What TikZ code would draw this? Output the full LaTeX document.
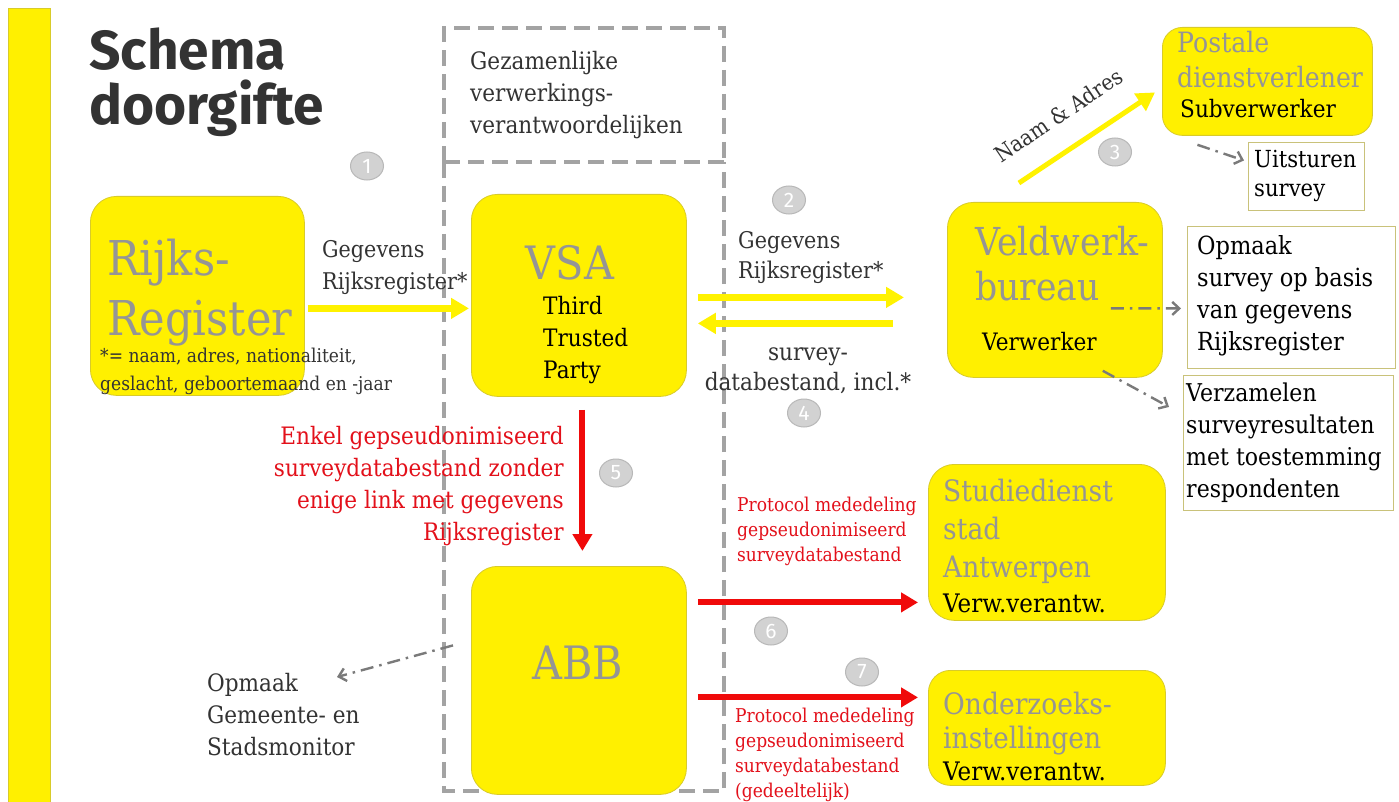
\documentclass[tikz,border=0pt]{standalone}
\usepackage{fontspec}
\setmainfont{DejaVu Serif}[FakeStretch=0.9]
\newfontfamily\titlefont{Fira Sans}
\usetikzlibrary{arrows.meta,shapes.geometric}
\definecolor{yfill}{HTML}{FFF000}
\definecolor{ybord}{HTML}{D8CB2A}
\definecolor{yarr}{HTML}{FFF200}
\definecolor{rarr}{HTML}{F00A0A}
\definecolor{rtext}{HTML}{E3101A}
\definecolor{gtext}{HTML}{959595}
\definecolor{dtext}{HTML}{333333}
\definecolor{dashg}{HTML}{A3A3A3}
\definecolor{ddg}{HTML}{7A7A7A}
\definecolor{tbord}{HTML}{C9C27A}
\definecolor{numf}{HTML}{D2D2D2}
\definecolor{numd}{HTML}{B8B8B8}
\tikzset{
  ybox/.style={draw=ybord, fill=yfill, line width=0.8pt, rounded corners=26pt, anchor=north west, inner sep=0pt},
  tbox/.style={draw=tbord, line width=0.9pt, anchor=north west, inner sep=0pt},
  bigg/.style={text=gtext, anchor=base west, inner sep=0pt, align=left},
  med/.style={text=dtext, anchor=base west, inner sep=0pt, align=left, font=\fontsize{24}{32}\selectfont},
  small/.style={text=dtext, anchor=base west, inner sep=0pt, align=left, font=\fontsize{19}{28}\selectfont},
  rsmall/.style={text=rtext, anchor=base west, inner sep=0pt, align=left, font=\fontsize{19}{25}\selectfont},
  num/.style={ellipse, fill=numf, draw=numd, line width=1pt, minimum width=33pt, minimum height=28pt, inner sep=0pt, text=white, font=\titlefont\fontsize{21}{21}\selectfont},
  yarrow/.style={draw=yarr, line width=6.5pt, -{Triangle[length=18pt,width=20pt]}},
  rarrow/.style={draw=rarr, line width=6pt, -{Triangle[length=17pt,width=19pt]}},
  ddarrow/.style={draw=ddg, line width=2.4pt, dash pattern=on 13pt off 6pt on 2.5pt off 6pt, -{Straight Barb[length=7pt,width=13pt]}},
  gdash/.style={draw=dashg, line width=4pt, dash pattern=on 16pt off 8pt},
}
\begin{document}
\begin{tikzpicture}[x=1pt,y=-1pt]
\useasboundingbox (0,0) rectangle (1399,802);
\fill[white] (0,0) rectangle (1399,802);
% left bar
\path[fill=yfill, draw=ybord, line width=0.8pt] (8,8) rectangle (50,810);
% title
\node[anchor=base west, inner sep=0pt, text=dtext, font=\titlefont\bfseries\fontsize{55}{55}\selectfont, align=left] (title) at (89,125) {Schema\\doorgifte};

% dashed joint-controller boxes
\draw[gdash] (444,162) -- (444,28) -- (724,28) -- (724,162);
\draw[gdash] (444,162) -- (724,162);
\draw[gdash] (444,162) -- (444,791) -- (724,791) -- (724,162);
\node[med] (gez) at (470,134) {Gezamenlijke\\verwerkings-\\verantwoordelijken};

% yellow boxes
\node[ybox, minimum width=214pt, minimum height=199pt] (rr) at (90,196) {};
\node[ybox, minimum width=215pt, minimum height=202pt] (vsa) at (471,194) {};
\node[ybox, minimum width=215pt, minimum height=175pt] (vw) at (947,202) {};
\node[ybox, minimum width=210pt, minimum height=108pt, rounded corners=20pt] (post) at (1162,27) {};
\node[ybox, minimum width=215pt, minimum height=228pt] (abb) at (471,566) {};
\node[ybox, minimum width=237pt, minimum height=156pt] (stud) at (928,464) {};
\node[ybox, minimum width=237pt, minimum height=115pt, rounded corners=22pt] (ond) at (928,670) {};

% text boxes
\node[tbox, minimum width=116pt, minimum height=68pt] (uits) at (1248,142) {};
\node[tbox, minimum width=208pt, minimum height=142pt] (opm) at (1187,226) {};
\node[tbox, minimum width=210pt, minimum height=135pt] (verz) at (1183,375) {};

% box texts
\node[bigg, font=\fontsize{48}{60}\selectfont] (rrt) at (107,335) {Rijks-\\Register};
\node[small] (rrn) at (100,390) {*= naam, adres, nationaliteit,\\geslacht, geboortemaand en -jaar};
\node[text=gtext, anchor=base, inner sep=0pt, font=\fontsize{46}{50}\selectfont] (vsat) at (570,279) {VSA};
\node[med, text=black] (ttp) at (543,378) {Third\\Trusted\\Party};
\node[bigg, font=\fontsize{38.5}{45}\selectfont] (vwt) at (975,300) {Veldwerk-\\bureau};
\node[med, text=black] (vwv) at (982,350) {Verwerker};
\node[bigg, font=\fontsize{28}{35}\selectfont] (postt) at (1177,88) {Postale\\dienstverlener};
\node[med, text=black] (posts) at (1180,118) {Subverwerker};
\node[med, text=black, font=\fontsize{23.5}{29}\selectfont] (uitst) at (1254,197) {Uitsturen\\survey};
\node[med, text=black, font=\fontsize{25}{31.7}\selectfont] (opmt) at (1197,350) {Opmaak\\survey op basis\\van gegevens\\Rijksregister};
\node[med, text=black, font=\fontsize{24.5}{32}\selectfont] (verzt) at (1186,497) {Verzamelen\\surveyresultaten\\met toestemming\\respondenten};
\node[text=gtext, anchor=base, inner sep=0pt, font=\fontsize{46}{50}\selectfont] (abbt) at (578,679) {ABB};
\node[bigg, font=\fontsize{29.5}{38}\selectfont] (studt) at (943,577) {Studiedienst\\stad\\Antwerpen};
\node[med, text=black, font=\fontsize{25.5}{32}\selectfont] (studv) at (943,612) {Verw.verantw.};
\node[bigg, font=\fontsize{29.5}{34}\selectfont] (ondt) at (943,748) {Onderzoeks-\\instellingen};
\node[med, text=black, font=\fontsize{25.5}{32}\selectfont] (ondv) at (943,780) {Verw.verantw.};
\node[med] (gem) at (207,755) {Opmaak\\Gemeente- en\\Stadsmonitor};

% arrow labels
\node[med, font=\fontsize{23}{32}\selectfont] (l1) at (322,289) {Gegevens\\Rijksregister*};
\node[med, font=\fontsize{23}{29}\selectfont] (l2) at (738,278) {Gegevens\\Rijksregister*};
\node[med, font=\fontsize{24}{30}\selectfont, anchor=base, align=center] (l4) at (808,390) {survey-\\databestand, incl.*};
\node[med, text=rtext, anchor=base east, align=right] (l5) at (564,540) {Enkel gepseudonimiseerd\\surveydatabestand zonder\\enige link met gegevens\\Rijksregister};
\node[rsmall] (l6) at (737,561) {Protocol mededeling\\gepseudonimiseerd\\surveydatabestand};
\node[rsmall] (l7) at (735,797) {Protocol mededeling\\gepseudonimiseerd\\surveydatabestand\\(gedeeltelijk)};
\node[med, font=\fontsize{22}{25}\selectfont, rotate=34, anchor=base] (l3) at (1063,122) {Naam \& Adres};

% numbers
\node[num] (n1) at (367,166) {1};
\node[num] (n2) at (789,200) {2};
\node[num] (n3) at (1115,152) {3};
\node[num] (n4) at (804,413) {4};
\node[num] (n5) at (616,473) {5};
\node[num] (n6) at (771,631) {6};
\node[num] (n7) at (862,672) {7};

% connectors
\draw[yarrow] ([xshift=3pt,yshift=-12.5pt]rr.east) -- ([xshift=-2pt,yshift=-13pt]vsa.west);
\draw[yarrow] ([xshift=11pt,yshift=-2pt]vsa.east) -- ([xshift=-43pt,yshift=-7.5pt]vw.west);
\draw[yarrow] ([xshift=-54pt,yshift=-33.5pt]vw.west) -- ([xshift=11pt,yshift=-28pt]vsa.east);
\draw[yarrow, line width=5pt] ([xshift=-36pt,yshift=19pt]vw.north) -- ([xshift=-7pt,yshift=-11pt]post.west);
\draw[rarrow] ([xshift=3.5pt,yshift=-13pt]vsa.south) -- ([xshift=3.5pt,yshift=15pt]abb.north);
\draw[rarrow] ([xshift=11pt,yshift=78pt]abb.east) -- ([xshift=-10pt,yshift=-60pt]stud.west);
\draw[rarrow] ([xshift=11pt,yshift=-17pt]abb.east) -- ([xshift=-10pt,yshift=30.5pt]ond.west);
\draw[ddarrow] ([xshift=-70pt,yshift=-9pt]post.south) -- ([xshift=-4pt,yshift=16pt]uits.west);
\draw[ddarrow] ([xshift=-52pt,yshift=-18.5pt]vw.east) -- ([xshift=-6pt,yshift=-11pt]opm.west);
\draw[ddarrow] ([xshift=-60pt,yshift=7pt]vw.south east) -- ([xshift=-14pt,yshift=36pt]verz.west);
\coordinate (gemtip) at (337,677);
\draw[ddarrow] ([xshift=-18pt,yshift=35pt]abb.west) -- (gemtip);
\end{tikzpicture}
\end{document}
